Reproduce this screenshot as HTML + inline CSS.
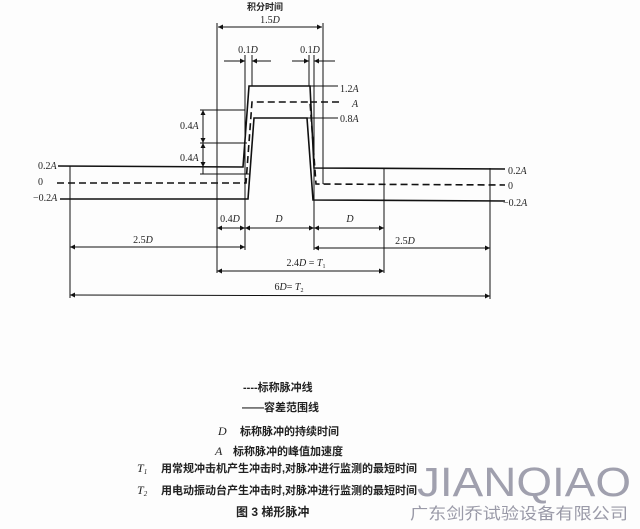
<!DOCTYPE html>
<html><head><meta charset="utf-8"><style>
body{margin:0;background:#fff;}
svg{display:block}
text{font-family:"Liberation Serif","Noto Serif CJK SC",serif;fill:#222}
.c{font-family:"Liberation Sans","Noto Sans CJK SC",sans-serif;font-weight:bold}
</style></head><body>
<svg width="640" height="529" viewBox="0 0 640 529" xmlns="http://www.w3.org/2000/svg">
<defs>
<marker id="a" viewBox="0 0 10 10" refX="10" refY="5" markerWidth="7" markerHeight="5" orient="auto-start-reverse" markerUnits="userSpaceOnUse"><path d="M0,0L10,5L0,10z" fill="#111"/></marker>
</defs>
<rect width="640" height="529" fill="#fdfdfd"/>
<g stroke="#111" fill="none" stroke-width="1.6">
<polyline points="58,166 243,167 249,86 310,86 314,168 505,169"/>
<polyline points="60,199 248,199 254,118 307,118 313,200 505,201"/>
<line x1="310" y1="86" x2="338" y2="86" stroke-width="1"/>
<line x1="307" y1="118" x2="338" y2="118" stroke-width="1"/>
</g>
<g stroke="#111" fill="none" stroke-width="1.6" stroke-dasharray="7,4">
<polyline points="57,183 246,183 252,102 310,102 316,184 505,185"/>
<line x1="310" y1="102" x2="342" y2="102"/>
</g>
<g stroke="#111" stroke-width="1" fill="none">
<line x1="217" y1="23" x2="217" y2="273"/>
<line x1="323" y1="23" x2="323" y2="184"/>
<line x1="245" y1="55" x2="245" y2="250"/>
<line x1="252" y1="55" x2="252" y2="86"/>
<line x1="309" y1="55" x2="309" y2="86"/>
<line x1="314" y1="55" x2="314" y2="250"/>
<line x1="70" y1="166" x2="70" y2="298"/>
<line x1="384" y1="168" x2="384" y2="273"/>
<line x1="490" y1="168" x2="490" y2="299"/>
<line x1="200" y1="110" x2="245" y2="110"/>
<line x1="200" y1="143" x2="247" y2="143"/>
<line x1="200" y1="174" x2="249" y2="174"/>
<line x1="203" y1="110" x2="203" y2="143" marker-start="url(#a)" marker-end="url(#a)"/>
<line x1="203" y1="143" x2="203" y2="167" marker-start="url(#a)" marker-end="url(#a)"/>
<line x1="203" y1="167" x2="203" y2="174"/>
<line x1="218" y1="27" x2="322" y2="27" marker-start="url(#a)" marker-end="url(#a)"/>
<line x1="224" y1="61" x2="245" y2="61" marker-end="url(#a)"/>
<line x1="271" y1="61" x2="252" y2="61" marker-end="url(#a)"/>
<line x1="292" y1="61" x2="309" y2="61" marker-end="url(#a)"/>
<line x1="335" y1="61" x2="314" y2="61" marker-end="url(#a)"/>
<line x1="217" y1="228" x2="245" y2="228" marker-start="url(#a)" marker-end="url(#a)"/>
<line x1="245" y1="228" x2="314" y2="228" marker-start="url(#a)" marker-end="url(#a)"/>
<line x1="314" y1="228" x2="384" y2="228" marker-start="url(#a)" marker-end="url(#a)"/>
<line x1="70" y1="247" x2="245" y2="247" marker-start="url(#a)" marker-end="url(#a)"/>
<line x1="314" y1="248" x2="490" y2="248" marker-start="url(#a)" marker-end="url(#a)"/>
<line x1="217" y1="271" x2="384" y2="271" marker-start="url(#a)" marker-end="url(#a)"/>
<line x1="70" y1="295" x2="490" y2="296" marker-start="url(#a)" marker-end="url(#a)"/>
</g>
<g font-size="10">
<text x="265" y="10" class="c" font-size="9" text-anchor="middle">积分时间</text>
<text x="270" y="23" text-anchor="middle">1.5<tspan font-style="italic">D</tspan></text>
<text x="248" y="53" text-anchor="middle">0.1<tspan font-style="italic">D</tspan></text>
<text x="310" y="53" text-anchor="middle">0.1<tspan font-style="italic">D</tspan></text>
<text x="340" y="92">1.2<tspan font-style="italic">A</tspan></text>
<text x="352" y="107" font-style="italic">A</text>
<text x="340" y="122">0.8<tspan font-style="italic">A</tspan></text>
<text x="180" y="129">0.4<tspan font-style="italic">A</tspan></text>
<text x="180" y="161">0.4<tspan font-style="italic">A</tspan></text>
<text x="38" y="169">0.2<tspan font-style="italic">A</tspan></text>
<text x="38" y="185">0</text>
<text x="33" y="201">−0.2<tspan font-style="italic">A</tspan></text>
<text x="508" y="174">0.2<tspan font-style="italic">A</tspan></text>
<text x="508" y="189">0</text>
<text x="503" y="206">−0.2<tspan font-style="italic">A</tspan></text>
<text x="230" y="222" text-anchor="middle">0.4<tspan font-style="italic">D</tspan></text>
<text x="279" y="222" text-anchor="middle" font-style="italic">D</text>
<text x="350" y="222" text-anchor="middle" font-style="italic">D</text>
<text x="143" y="243" text-anchor="middle">2.5<tspan font-style="italic">D</tspan></text>
<text x="405" y="244" text-anchor="middle">2.5<tspan font-style="italic">D</tspan></text>
<text x="306" y="266" text-anchor="middle">2.4<tspan font-style="italic">D</tspan> = <tspan font-style="italic">T</tspan><tspan font-size="6" dy="2">1</tspan></text>
<text x="289" y="290" text-anchor="middle">6<tspan font-style="italic">D</tspan>= <tspan font-style="italic">T</tspan><tspan font-size="6" dy="2">2</tspan></text>
</g>
<g font-size="11">
<text x="243" y="391" class="c">----标称脉冲线</text>
<text x="242" y="411" class="c">——容差范围线</text>
<text x="218" y="435" font-style="italic" font-size="12">D</text>
<text x="240" y="435" class="c">标称脉冲的持续时间</text>
<text x="215" y="455" font-style="italic" font-size="12">A</text>
<text x="233" y="455" class="c">标称脉冲的峰值加速度</text>
<text x="137" y="472" font-style="italic" font-size="12">T<tspan font-size="7" dy="2">1</tspan></text>
<text x="161" y="472" class="c">用常规冲击机产生冲击时,对脉冲进行监测的最短时间</text>
<text x="137" y="494" font-style="italic" font-size="12">T<tspan font-size="7" dy="2">2</tspan></text>
<text x="161" y="494" class="c">用电动振动台产生冲击时,对脉冲进行监测的最短时间</text>
<text x="236" y="516" class="c" font-size="12">图 3  梯形脉冲</text>
</g>
<text x="417" y="496" font-size="41" textLength="214" lengthAdjust="spacingAndGlyphs" style="font-family:'Liberation Sans',sans-serif;fill:#a0a0ae">JIANQIAO</text>
<text x="410" y="519" font-size="16" textLength="218" lengthAdjust="spacingAndGlyphs" style="font-family:'Liberation Sans','Noto Sans CJK SC',sans-serif;fill:#9a9aa8">广东剑乔试验设备有限公司</text>
</svg>
</body></html>
